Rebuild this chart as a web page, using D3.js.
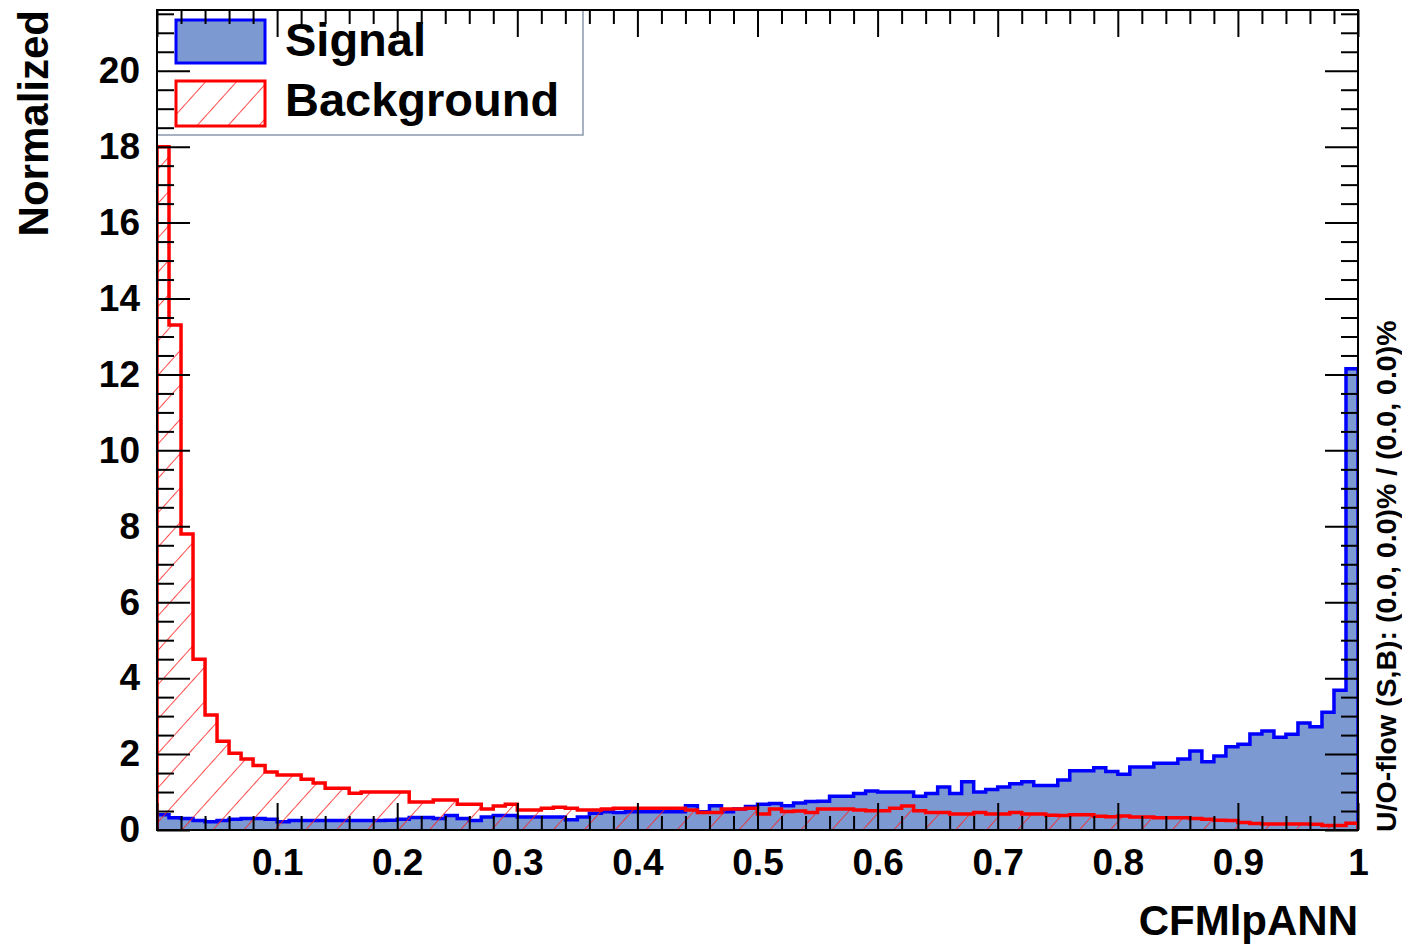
<!DOCTYPE html>
<html>
<head>
<meta charset="utf-8">
<script src="https://cdn.jsdelivr.net/npm/d3@7/dist/d3.min.js"></script>
<style>
    html, body { margin: 0; padding: 0; background: #fff; }
    svg { display: block; }
    text { font-family: "Liberation Sans", Arial, Helvetica, sans-serif; font-weight: bold; }
</style>
</head>
<body>
<svg id="stage" width="1402" height="945"></svg>
<script>
// histogram binning of the CFMlpANN output
var bin_range = [0, 1];
var n_bins = 100;

var signal_values = [
    0.40, 0.32, 0.30, 0.25, 0.22, 0.25, 0.28, 0.30, 0.30, 0.28,
    0.22, 0.25, 0.25, 0.25, 0.25, 0.25, 0.25, 0.25, 0.25, 0.26,
    0.28, 0.33, 0.33, 0.30, 0.38, 0.30, 0.25, 0.34, 0.38, 0.38,
    0.34, 0.34, 0.34, 0.34, 0.27, 0.34, 0.44, 0.48, 0.46, 0.48,
    0.48, 0.48, 0.48, 0.48, 0.64, 0.48, 0.64, 0.48, 0.55, 0.62,
    0.68, 0.70, 0.64, 0.71, 0.75, 0.76, 0.89, 0.89, 0.96, 1.03,
    1.00, 1.00, 1.00, 0.89, 0.96, 1.13, 0.96, 1.27, 1.00, 1.07,
    1.13, 1.22, 1.27, 1.17, 1.17, 1.32, 1.56, 1.56, 1.64, 1.54,
    1.47, 1.66, 1.66, 1.76, 1.76, 1.87, 2.08, 1.80, 1.95, 2.19,
    2.26, 2.53, 2.61, 2.44, 2.52, 2.82, 2.72, 3.10, 3.68, 12.15
];
var background_values = [
    18.0, 13.3, 7.80, 4.50, 3.03, 2.34, 2.02, 1.87, 1.70, 1.53,
    1.45, 1.45, 1.34, 1.24, 1.10, 1.10, 0.97, 1.00, 1.00, 1.00,
    1.00, 0.74, 0.74, 0.79, 0.79, 0.68, 0.68, 0.55, 0.63, 0.68,
    0.53, 0.53, 0.57, 0.60, 0.57, 0.53, 0.53, 0.55, 0.57, 0.57,
    0.57, 0.57, 0.57, 0.57, 0.53, 0.46, 0.46, 0.55, 0.55, 0.57,
    0.42, 0.55, 0.49, 0.50, 0.46, 0.55, 0.55, 0.55, 0.53, 0.51,
    0.51, 0.57, 0.63, 0.51, 0.46, 0.46, 0.42, 0.42, 0.46, 0.42,
    0.42, 0.46, 0.42, 0.42, 0.39, 0.38, 0.40, 0.40, 0.36, 0.35,
    0.37, 0.34, 0.34, 0.32, 0.32, 0.32, 0.30, 0.28, 0.26, 0.25,
    0.20, 0.17, 0.16, 0.16, 0.16, 0.16, 0.15, 0.12, 0.12, 0.18
];

var x_major_ticks = d3.range(0, 11).map(function (i) { return i / 10; });
var x_minor_ticks = d3.range(0, 51).filter(function (i) { return i % 5 != 0; }).map(function (i) { return i / 50; });
var y_major_ticks = d3.range(0, 21, 2);
var y_minor_ticks = d3.range(0, 44).filter(function (i) { return i % 4 != 0; }).map(function (i) { return i / 2; });
var y_max = 21.6;

var legend_labels = ['Signal', 'Background'];
var x_title = 'CFMlpANN';
var y_title = 'Normalized';
var flow_text = 'U/O-flow (S,B): (0.0, 0.0)% / (0.0, 0.0)%';

var frame = {left: 157, right: 1358, top: 10, bottom: 830};
var font_family = '"Liberation Sans", Arial, Helvetica, sans-serif';

var svg = d3.select('#stage');
var x = d3.scaleLinear().domain(bin_range).range([frame.left, frame.right]);
var y = d3.scaleLinear().domain([0, y_max]).range([frame.bottom, frame.top]);

var defs = svg.append('defs');
var hatch = defs.append('pattern')
    .attr('id', 'hatch')
    .attr('patternUnits', 'userSpaceOnUse')
    .attr('width', 23)
    .attr('height', 23)
    .attr('patternTransform', 'rotate(42)');
hatch.append('line')
    .attr('x1', 0).attr('y1', 0).attr('x2', 0).attr('y2', 23)
    .attr('stroke', '#ff2020')
    .attr('stroke-width', 2)
    .attr('stroke-opacity', 0.8);
defs.append('clipPath').attr('id', 'plot_clip')
    .append('rect')
    .attr('x', frame.left).attr('y', frame.top)
    .attr('width', frame.right - frame.left).attr('height', frame.bottom - frame.top);

svg.append('rect')
    .attr('x', frame.left).attr('y', frame.top)
    .attr('width', frame.right - frame.left).attr('height', frame.bottom - frame.top)
    .attr('fill', '#fff');

// step points: each bin left edge, plus closing edge
var bin_width = (bin_range[1] - bin_range[0]) / n_bins;
var to_steps = function (values) {
    var pts = values.map(function (v, i) { return [bin_range[0] + i * bin_width, v]; });
    pts.push([bin_range[1], values[values.length - 1]]);
    return pts;
};
var outline = function (values) {
    var pts = [[bin_range[0], 0]].concat(to_steps(values));
    pts.push([bin_range[1], 0]);
    return d3.line().curve(d3.curveStepAfter)
        .x(function (d) { return x(d[0]); })
        .y(function (d) { return y(d[1]); })(pts);
};
var area = d3.area().curve(d3.curveStepAfter)
    .x(function (d) { return x(d[0]); })
    .y0(y(0))
    .y1(function (d) { return y(d[1]); });

var hist_layer = svg.append('g').attr('clip-path', 'url(#plot_clip)');
hist_layer.append('path')
    .attr('d', area(to_steps(signal_values)))
    .attr('fill', '#7d99d1');
hist_layer.append('path')
    .attr('d', outline(signal_values))
    .attr('fill', 'none')
    .attr('stroke', '#0000ff')
    .attr('stroke-width', 3.5);
hist_layer.append('path')
    .attr('d', area(to_steps(background_values)))
    .attr('fill', 'url(#hatch)');
hist_layer.append('path')
    .attr('d', outline(background_values))
    .attr('fill', 'none')
    .attr('stroke', '#ff0000')
    .attr('stroke-width', 3.5);

// legend
var legend = svg.append('g');
legend.append('rect')
    .attr('x', frame.left).attr('y', frame.top)
    .attr('width', 426).attr('height', 125)
    .attr('fill', '#fff')
    .attr('stroke', '#8a98ad')
    .attr('stroke-width', 1.5);
legend.append('rect')
    .attr('x', 176).attr('y', 20).attr('width', 89).attr('height', 43)
    .attr('fill', '#7d99d1').attr('stroke', '#0000ff').attr('stroke-width', 3);
legend.append('rect')
    .attr('x', 176).attr('y', 81).attr('width', 89).attr('height', 45)
    .attr('fill', 'url(#hatch)').attr('stroke', '#ff0000').attr('stroke-width', 3);
legend.selectAll('text.legend')
    .data(legend_labels)
    .enter()
    .append('text')
    .attr('class', 'legend')
    .attr('x', 285)
    .attr('y', function (d, i) { return 56 + i * 60; })
    .attr('font-size', 47)
    .text(function (d) { return d; });

// axes, ticks point inwards like ROOT
var style_axis = function (g, size) {
    g.attr('font-size', size).attr('font-family', font_family).attr('font-weight', 'bold').attr('color', '#000');
    g.select('.domain').remove();
    g.selectAll('line').attr('stroke-width', 2);
};
var x_label = function (d) { return d == 0 ? '' : d3.format('~g')(d); };

svg.append('g').attr('transform', 'translate(0,' + frame.bottom + ')')
    .call(d3.axisBottom(x).tickValues(x_major_ticks).tickSizeInner(-27).tickSizeOuter(0).tickFormat(x_label))
    .call(style_axis, 37)
    .selectAll('text').attr('y', 45).attr('dy', null);
svg.append('g').attr('transform', 'translate(0,' + frame.bottom + ')')
    .call(d3.axisBottom(x).tickValues(x_minor_ticks).tickSizeInner(-14).tickSizeOuter(0).tickFormat(''))
    .call(style_axis, 10);
svg.append('g').attr('transform', 'translate(0,' + frame.top + ')')
    .call(d3.axisTop(x).tickValues(x_major_ticks).tickSizeInner(-27).tickSizeOuter(0).tickFormat(''))
    .call(style_axis, 10);
svg.append('g').attr('transform', 'translate(0,' + frame.top + ')')
    .call(d3.axisTop(x).tickValues(x_minor_ticks).tickSizeInner(-14).tickSizeOuter(0).tickFormat(''))
    .call(style_axis, 10);

svg.append('g').attr('transform', 'translate(' + frame.left + ',0)')
    .call(d3.axisLeft(y).tickValues(y_major_ticks).tickSizeInner(-33).tickSizeOuter(0).tickPadding(17))
    .call(style_axis, 37);
svg.append('g').attr('transform', 'translate(' + frame.left + ',0)')
    .call(d3.axisLeft(y).tickValues(y_minor_ticks).tickSizeInner(-17).tickSizeOuter(0).tickFormat(''))
    .call(style_axis, 10);
svg.append('g').attr('transform', 'translate(' + frame.right + ',0)')
    .call(d3.axisRight(y).tickValues(y_major_ticks).tickSizeInner(-33).tickSizeOuter(0).tickFormat(''))
    .call(style_axis, 10);
svg.append('g').attr('transform', 'translate(' + frame.right + ',0)')
    .call(d3.axisRight(y).tickValues(y_minor_ticks).tickSizeInner(-17).tickSizeOuter(0).tickFormat(''))
    .call(style_axis, 10);

svg.append('rect')
    .attr('x', frame.left).attr('y', frame.top)
    .attr('width', frame.right - frame.left).attr('height', frame.bottom - frame.top)
    .attr('fill', 'none')
    .attr('stroke', '#000')
    .attr('stroke-width', 2);

// titles
svg.append('text')
    .attr('x', frame.right).attr('y', 935)
    .attr('text-anchor', 'end')
    .attr('font-size', 42)
    .text(x_title);
svg.append('text')
    .attr('transform', 'translate(48,' + frame.top + ') rotate(-90)')
    .attr('text-anchor', 'end')
    .attr('font-size', 42)
    .text(y_title);
svg.append('text')
    .attr('transform', 'translate(1396,832) rotate(-90)')
    .attr('text-anchor', 'start')
    .attr('font-size', 28.5)
    .text(flow_text);
</script>
</body>
</html>
